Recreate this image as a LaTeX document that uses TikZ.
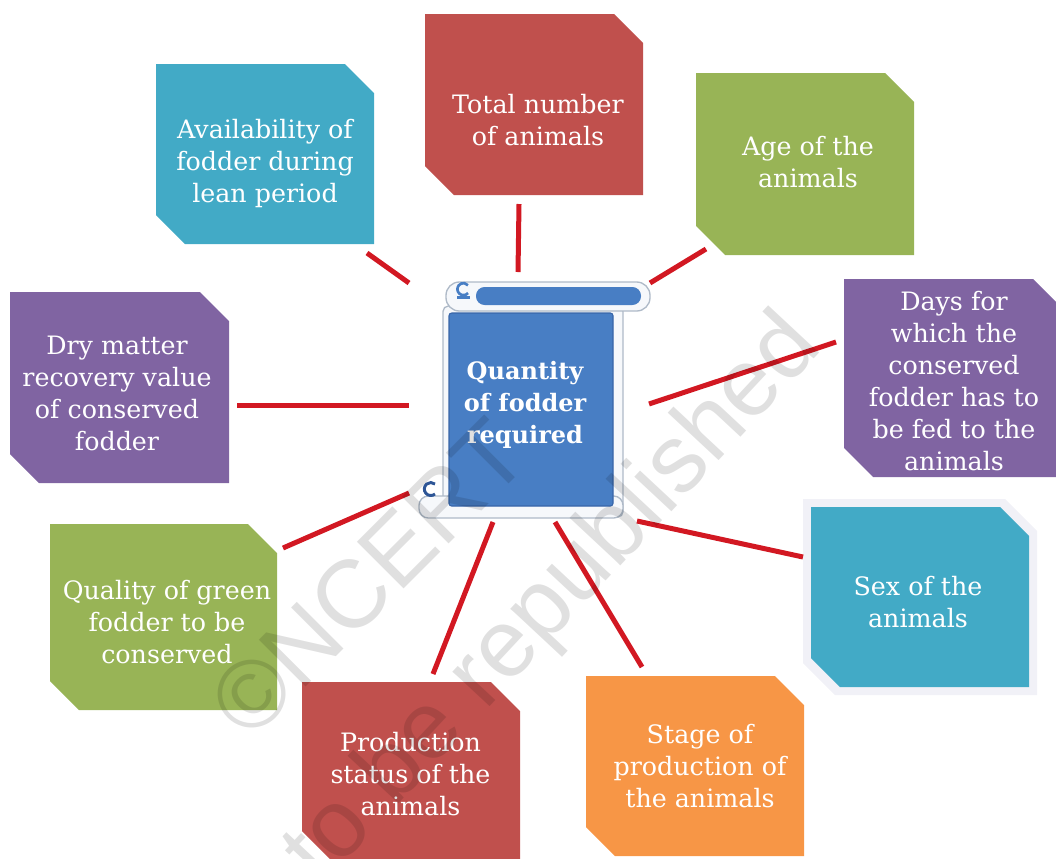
\documentclass[tikz,border=0pt]{standalone}
\usepackage{fontspec}
\setmainfont{DejaVu Serif}
\newfontfamily\wmfont{Liberation Sans}
\definecolor{cAqua}{RGB}{66,170,198}
\definecolor{cRed}{RGB}{192,80,77}
\definecolor{cGreen}{RGB}{152,180,86}
\definecolor{cPurple}{RGB}{128,100,162}
\definecolor{cOrange}{RGB}{247,150,70}
\definecolor{cLine}{RGB}{210,24,34}
\definecolor{cScroll}{RGB}{72,126,196}
\definecolor{cScrollDark}{RGB}{45,85,150}
\definecolor{cPaper}{RGB}{246,248,251}
\definecolor{cPaperEdge}{RGB}{175,186,200}
\definecolor{cHalo}{RGB}{241,241,247}
\tikzset{
  boxarea/.style={rectangle, inner sep=0pt, outer sep=0pt, draw=none},
  lbl/.style={text=white, align=center, font=\fontsize{19}{24}\selectfont, inner sep=0pt},
  link/.style={draw=cLine, line width=3.75pt},
  paper/.style={fill=cPaper, draw=cPaperEdge, line width=1pt},
  wm/.style={text=black, text opacity=0.12, font=\wmfont\fontsize{72}{80}\selectfont, inner sep=0pt},
}
% chamfered outline of a named box: #1 node name, #2 chamfer size
\newcommand\snipshape[2]{(#1.north west) -- ([xshift=-#2]#1.north east) -- ([yshift=-#2]#1.north east)
  -- (#1.south east) -- ([xshift=#2]#1.south west) -- ([yshift=#2]#1.south west) -- cycle}
\begin{document}
\begin{tikzpicture}[x=0.75pt,y=-0.75pt]
\useasboundingbox (0,0) rectangle (1056,858);
\clip (0,0) rectangle (1056,858);

% box areas
\node[boxarea, minimum width=163.5pt,  minimum height=135pt]    (avail) at (265,154) {};
\node[boxarea, minimum width=163.5pt,  minimum height=135.75pt] (total) at (534,104.5) {};
\node[boxarea, minimum width=163.5pt,  minimum height=136.5pt]  (age)   at (805,164) {};
\node[boxarea, minimum width=163.5pt,  minimum height=148.5pt]  (days)  at (953,378) {};
\node[boxarea, minimum width=164.25pt, minimum height=143.25pt] (dry)   at (119.5,387.5) {};
\node[boxarea, minimum width=163.5pt,  minimum height=135pt]    (sex)   at (920,597) {};
\node[boxarea, minimum width=175.5pt,  minimum height=147pt]    (sexhalo) at (920,597) {};
\node[boxarea, minimum width=170.25pt, minimum height=139.5pt]  (qual)  at (163.5,617) {};
\node[boxarea, minimum width=163.5pt,  minimum height=133.5pt]  (prod)  at (411,771) {};
\node[boxarea, minimum width=163.5pt,  minimum height=135pt]    (stage) at (695,766) {};

\fill[cAqua]   \snipshape{avail}{21.75pt};
\fill[cRed]    \snipshape{total}{21.75pt};
\fill[cGreen]  \snipshape{age}{21.75pt};
\fill[cPurple] \snipshape{days}{21.75pt};
\fill[cPurple] \snipshape{dry}{21.75pt};
\fill[cHalo]   \snipshape{sexhalo}{24pt};
\fill[cAqua]   \snipshape{sex}{21.75pt};
\fill[cGreen]  \snipshape{qual}{21.75pt};
\fill[cRed]    \snipshape{prod}{21.75pt};
\fill[cOrange] \snipshape{stage}{21.75pt};

% labels
\node[lbl] (availT) at (265,164) {Availability of\\fodder during\\lean period};
\node[lbl] (totalT) at (538,120) {Total number\\of animals};
\node[lbl] (ageT)   at (808,162) {Age of the\\animals};
\node[lbl] (daysT)  at (954,381) {Days for\\which the\\conserved\\fodder has to\\be fed to the\\animals};
\node[lbl] (dryT)   at (117,393) {Dry matter\\recovery value\\of conserved\\fodder};
\node[lbl] (sexT)   at (918,602) {Sex of the\\animals};
\node[lbl] (qualT)  at (167,622) {Quality of green\\fodder to be\\conserved};
\node[lbl] (prodT)  at (410.5,774) {Production\\status of the\\animals};
\node[lbl] (stageT) at (700,766) {Stage of\\production of\\the animals};

% central scroll area
\node[boxarea, minimum width=180.75pt, minimum height=187.5pt] (scroll) at (529.5,397) {};

% connectors
\draw[link] ([shift={(102,99)}]avail.center)   -- ([shift={(-120.5,-114)}]scroll.center);
\draw[link] ([shift={(-15,99.5)}]total.center) -- ([shift={(-11.5,-125)}]scroll.center);
\draw[link] ([shift={(-99,85)}]age.center)     -- ([shift={(120.5,-114)}]scroll.center);
\draw[link] ([shift={(-117,-36)}]days.center)  -- ([shift={(119.5,7)}]scroll.center);
\draw[link] ([shift={(117.5,18)}]dry.center)   -- ([shift={(-120.5,8.5)}]scroll.center);
\draw[link] ([shift={(-117,-40)}]sex.center)   -- ([shift={(107.5,124)}]scroll.center);
\draw[link] ([shift={(119.5,-69)}]qual.center) -- ([shift={(-120.5,96)}]scroll.center);
\draw[link] ([shift={(22,-97)}]prod.center)    -- ([shift={(-36.5,125)}]scroll.center);
\draw[link] ([shift={(-53,-99)}]stage.center)  -- ([shift={(25.5,125)}]scroll.center);

% scroll drawing
\draw[paper, rounded corners=4pt] (443,306) rectangle (623,517);
\draw[paper, rounded corners=7pt] (419,496) rectangle (623,518);
\draw[paper, rounded corners=10pt] (446,282) rectangle (650,311);
\fill[cScroll, rounded corners=2pt] (449,313) rectangle (613,506);
\draw[cScrollDark!60!cScroll, line width=0.8pt, rounded corners=2pt] (449,313) rectangle (613,506);
\fill[cScroll, rounded corners=6.5pt] (476,287) rectangle (641,305);
\draw[cScroll, line width=2pt] (468,293) arc[start angle=40, end angle=320, radius=6];
\draw[cScroll, line width=2pt] (457,297.5) -- (470,297.5);
\draw[cScrollDark, line width=2.2pt] (435,494) arc[start angle=50, end angle=310, radius=6.5];

\node[text=white, align=center, font=\bfseries\fontsize{18}{24}\selectfont, inner sep=0pt] (qT) at (525,405) {Quantity\\of fodder\\required};

% watermark
\node[wm, rotate=45] (wm1) at (368,578) {©NCERT};
\node[wm, rotate=47] (wm2) at (500,659) {not to be republished};
\end{tikzpicture}
\end{document}
